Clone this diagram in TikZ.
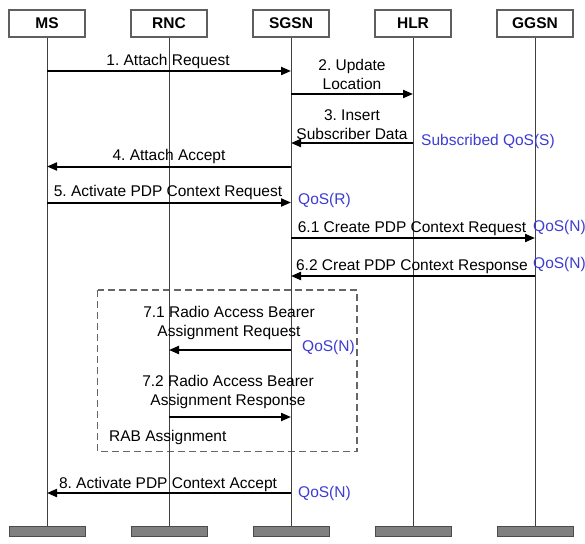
\documentclass[tikz,border=0pt]{standalone}
\usepackage{fontspec}
\setmainfont{Liberation Sans}
\usetikzlibrary{arrows.meta}
\definecolor{qosblue}{RGB}{60,60,210}
\definecolor{boxline}{RGB}{95,95,95}
\definecolor{barfill}{RGB}{128,128,128}
\frenchspacing
\begin{document}
\begin{tikzpicture}[x=1pt,y=-1pt,
  head/.style={draw=boxline, line width=1.1pt, fill=white, minimum width=76pt, minimum height=27pt, inner sep=0pt, font=\fontsize{15.5}{18.5}\selectfont\bfseries},
  bar/.style={draw=black!70, line width=1pt, fill=barfill, minimum width=76pt, minimum height=10pt, inner sep=0pt},
  life/.style={draw=black!75, line width=1pt},
  msg/.style={draw=black, line width=2pt, -{Triangle[length=10pt,width=8pt]}},
  lbl/.style={font=\fontsize{15.5}{18.5}\selectfont\frenchspacing, inner sep=0pt, align=center, anchor=base},
  qos/.style={font=\fontsize{15.5}{18.5}\selectfont, inner sep=0pt, text=qosblue, anchor=base west},
  grp/.style={draw=black!60, line width=1.3pt, dash pattern=on 7pt off 4pt}
]
\useasboundingbox (0,0) rectangle (585,543);

% group box
\draw[grp] (97.5,290) rectangle (357,451.5);

% headers and bottom bars
\node[head] (MS)   at (47,23.5)  {MS};
\node[head] (RNC)  at (169,23.5) {RNC};
\node[head] (SGSN) at (291,23.5) {SGSN};
\node[head] (HLR)  at (413,23.5) {HLR};
\node[head] (GGSN) at (535,23.5) {GGSN};
\node[bar] (MSb)   at (47,531.5)  {};
\node[bar] (RNCb)  at (169,531.5) {};
\node[bar] (SGSNb) at (291,531.5) {};
\node[bar] (HLRb)  at (413,531.5) {};
\node[bar] (GGSNb) at (535,531.5) {};

% lifelines
\foreach \n in {MS,RNC,SGSN,HLR,GGSN}{
  \draw[life] (\n.south) -- (\n b.north);
}

% messages
\draw[msg] (MS |- 0,71) -- (SGSN |- 0,71);
\node[lbl] (l1) at (168,65) {1. Attach Request};

\draw[msg] (SGSN |- 0,94) -- (HLR |- 0,94);
\node[lbl] (l2) at (352,89) {2. Update\\Location};

\draw[msg] (HLR |- 0,143) -- (SGSN |- 0,143);
\node[lbl] (l3) at (352,139) {3. Insert\\Subscriber Data};
\node[qos] (q3) at (421,145) {Subscribed QoS(S)};

\draw[msg] (SGSN |- 0,166.5) -- (MS |- 0,166.5);
\node[lbl] (l4) at (169,160) {4. Attach Accept};

\draw[msg] (MS |- 0,202.5) -- (SGSN |- 0,202.5);
\node[lbl] (l5) at (168,196) {5. Activate PDP Context Request};
\node[qos] (q5) at (298,204) {QoS(R)};

\draw[msg] (SGSN |- 0,238) -- (GGSN |- 0,238);
\node[lbl] (l61) at (412,232.5) {6.1 Create PDP Context Request};
\node[qos] (q61) at (533,231) {QoS(N)};

\draw[msg] (GGSN |- 0,276) -- (SGSN |- 0,276);
\node[lbl] (l62) at (412,270.5) {6.2 Creat PDP Context Response};
\node[qos] (q62) at (533,268.5) {QoS(N)};

\draw[msg] (SGSN |- 0,350) -- (RNC |- 0,350);
\node[lbl] (l71) at (229,336) {7.1 Radio Access Bearer\\Assignment Request};
\node[qos] (q71) at (302,351) {QoS(N)};

\draw[msg] (RNC |- 0,417) -- (SGSN |- 0,417);
\node[lbl] (l72) at (228,405) {7.2 Radio Access Bearer\\Assignment Response};

\node[qos, text=black] (rab) at (109,441) {RAB Assignment};

\draw[msg] (SGSN |- 0,493) -- (MS |- 0,493);
\node[lbl] (l8) at (168,488) {8. Activate PDP Context Accept};
\node[qos] (q8) at (298,497) {QoS(N)};
\end{tikzpicture}
\end{document}
